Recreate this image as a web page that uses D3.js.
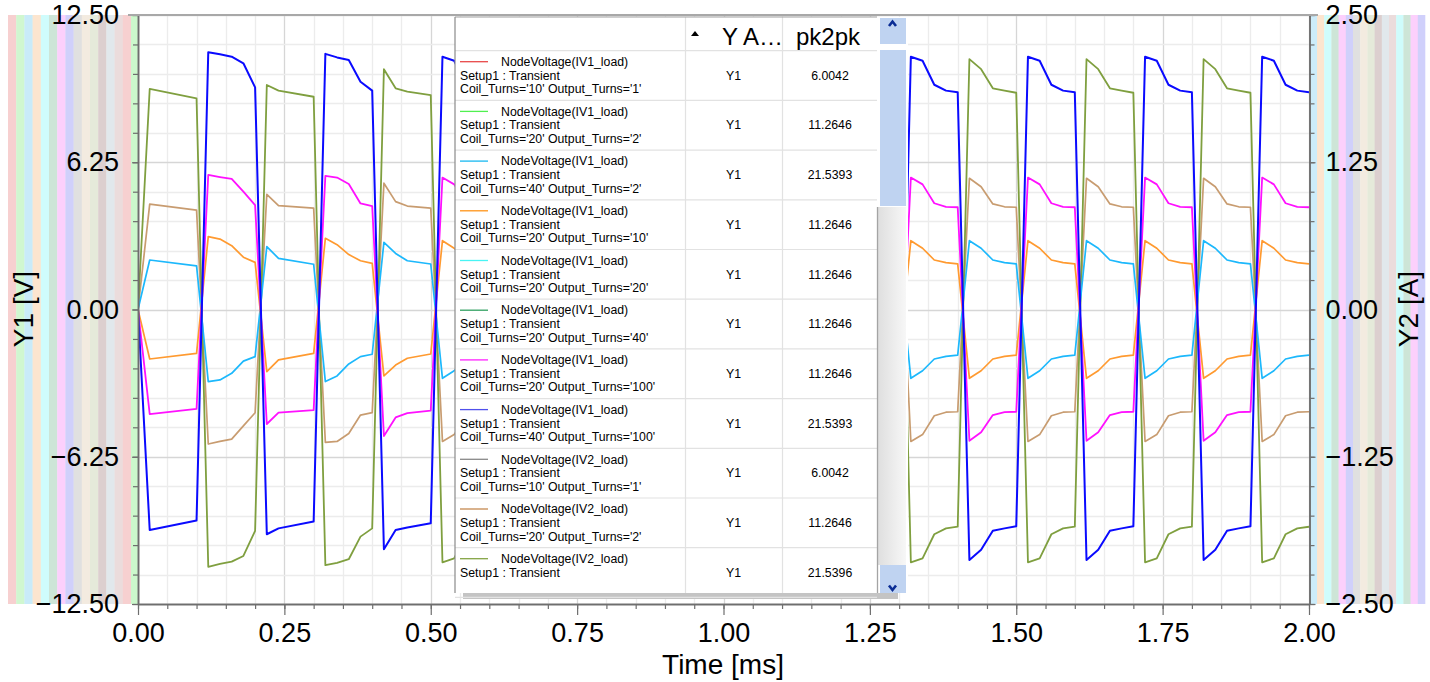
<!DOCTYPE html>
<html>
<head>
<meta charset="utf-8">
<script src="https://cdn.jsdelivr.net/npm/d3@7"></script>
<style>
  body { margin: 0; background: #fff; overflow: hidden; }
  svg { display: block; font-family: "Liberation Sans", Arial, sans-serif; }
</style>
</head>
<body>
<svg id="chart" width="1430" height="682"></svg>
<script>
// --- data (time in ms, voltage in V) ---
const timeMs = [
  0, 0.02, 0.10, 0.12, 0.14, 0.16, 0.18, 0.20, 0.22, 0.24, 0.30, 0.32, 0.34, 0.36, 0.38, 0.40, 0.42, 0.44, 0.46, 0.50,
  0.52, 0.54, 0.56, 0.58, 0.60, 0.62, 0.64, 0.66, 0.68, 0.70,
  0.72, 0.74, 0.76, 0.78, 0.80, 0.82, 0.84, 0.86, 0.88, 0.90,
  0.92, 0.94, 0.96, 0.98, 1.00, 1.02, 1.04, 1.06, 1.08, 1.10,
  1.12, 1.14, 1.16, 1.18, 1.20, 1.22, 1.24, 1.26, 1.28, 1.30,
  1.32, 1.34, 1.36, 1.38, 1.40, 1.42, 1.44, 1.46, 1.48, 1.50,
  1.52, 1.54, 1.56, 1.58, 1.60, 1.62, 1.64, 1.66, 1.68, 1.70,
  1.72, 1.74, 1.76, 1.78, 1.80, 1.82, 1.84, 1.86, 1.88, 1.90,
  1.92, 1.94, 1.96, 1.98, 2.00
];

const blueV = [
  0, -9.36, -8.96, 10.92, 10.83, 10.73, 10.45, 9.43, -9.54, -9.29, -9.0, 10.85, 10.7, 10.59, 9.67, 9.29, -10.18, -9.36, -9.25, -9.07,
  10.73, 10.56, 9.54, 9.29, 9.22, -10.63, -10.2, -9.39, -9.29, -9.2,
  10.73, 10.56, 9.54, 9.29, 9.22, -10.63, -10.2, -9.39, -9.29, -9.2,
  10.73, 10.56, 9.54, 9.29, 9.22, -10.63, -10.2, -9.39, -9.29, -9.2,
  10.73, 10.56, 9.54, 9.29, 9.22, -10.63, -10.2, -9.39, -9.29, -9.2,
  10.73, 10.56, 9.54, 9.29, 9.22, -10.63, -10.2, -9.39, -9.29, -9.2,
  10.73, 10.56, 9.54, 9.29, 9.22, -10.63, -10.2, -9.39, -9.29, -9.2,
  10.73, 10.56, 9.54, 9.29, 9.22, -10.63, -10.2, -9.39, -9.29, -9.2,
  10.73, 10.56, 9.54, 9.29, 9.22
];

const oliveV = [
  0, 9.36, 8.96, -10.92, -10.8, -10.7, -10.46, -9.4, 9.53, 9.29, 9.03, -10.85, -10.75, -10.6, -9.64, -9.29, 10.2, 9.39, 9.25, 9.1,
  -10.73, -10.56, -9.54, -9.29, -9.22, 10.63, 10.2, 9.39, 9.29, 9.2,
  -10.73, -10.56, -9.54, -9.29, -9.22, 10.63, 10.2, 9.39, 9.29, 9.2,
  -10.73, -10.56, -9.54, -9.29, -9.22, 10.63, 10.2, 9.39, 9.29, 9.2,
  -10.73, -10.56, -9.54, -9.29, -9.22, 10.63, 10.2, 9.39, 9.29, 9.2,
  -10.73, -10.56, -9.54, -9.29, -9.22, 10.63, 10.2, 9.39, 9.29, 9.2,
  -10.73, -10.56, -9.54, -9.29, -9.22, 10.63, 10.2, 9.39, 9.29, 9.2,
  -10.73, -10.56, -9.54, -9.29, -9.22, 10.63, 10.2, 9.39, 9.29, 9.2,
  -10.73, -10.56, -9.54, -9.29, -9.22
];

const magentaV = [
  0, -4.44, -4.22, 5.71, 5.62, 5.54, 5.0, 4.43, -4.86, -4.38, -4.27, 5.67, 5.6, 5.33, 4.5, 4.39, -5.37, -4.58, -4.4, -4.29,
  5.6, 5.31, 4.51, 4.36, 4.34, -5.57, -5.21, -4.48, -4.36, -4.34,
  5.6, 5.31, 4.51, 4.36, 4.34, -5.57, -5.21, -4.48, -4.36, -4.34,
  5.6, 5.31, 4.51, 4.36, 4.34, -5.57, -5.21, -4.48, -4.36, -4.34,
  5.6, 5.31, 4.51, 4.36, 4.34, -5.57, -5.21, -4.48, -4.36, -4.34,
  5.6, 5.31, 4.51, 4.36, 4.34, -5.57, -5.21, -4.48, -4.36, -4.34,
  5.6, 5.31, 4.51, 4.36, 4.34, -5.57, -5.21, -4.48, -4.36, -4.34,
  5.6, 5.31, 4.51, 4.36, 4.34, -5.57, -5.21, -4.48, -4.36, -4.34,
  5.6, 5.31, 4.51, 4.36, 4.34
];

const tanV = [
  0, 4.47, 4.22, -5.71, -5.6, -5.5, -4.94, -4.38, 4.89, 4.41, 4.3, -5.64, -5.6, -5.26, -4.48, -4.38, 5.36, 4.58, 4.39, 4.3,
  -5.6, -5.31, -4.51, -4.36, -4.34, 5.57, 5.21, 4.48, 4.36, 4.34,
  -5.6, -5.31, -4.51, -4.36, -4.34, 5.57, 5.21, 4.48, 4.36, 4.34,
  -5.6, -5.31, -4.51, -4.36, -4.34, 5.57, 5.21, 4.48, 4.36, 4.34,
  -5.6, -5.31, -4.51, -4.36, -4.34, 5.57, 5.21, 4.48, 4.36, 4.34,
  -5.6, -5.31, -4.51, -4.36, -4.34, 5.57, 5.21, 4.48, 4.36, 4.34,
  -5.6, -5.31, -4.51, -4.36, -4.34, 5.57, 5.21, 4.48, 4.36, 4.34,
  -5.6, -5.31, -4.51, -4.36, -4.34, 5.57, 5.21, 4.48, 4.36, 4.34,
  -5.6, -5.31, -4.51, -4.36, -4.34
];

const orangeV = [
  0, -2.1, -1.86, 3.09, 2.99, 2.71, 2.22, 2.0, -2.64, -2.14, -1.86, 3.02, 2.75, 2.33, 2.07, 1.96, -2.82, -2.36, -2.07, -1.89,
  2.92, 2.6, 2.1, 1.99, 1.94, -2.92, -2.6, -2.1, -1.99, -1.94,
  2.92, 2.6, 2.1, 1.99, 1.94, -2.92, -2.6, -2.1, -1.99, -1.94,
  2.92, 2.6, 2.1, 1.99, 1.94, -2.92, -2.6, -2.1, -1.99, -1.94,
  2.92, 2.6, 2.1, 1.99, 1.94, -2.92, -2.6, -2.1, -1.99, -1.94,
  2.92, 2.6, 2.1, 1.99, 1.94, -2.92, -2.6, -2.1, -1.99, -1.94,
  2.92, 2.6, 2.1, 1.99, 1.94, -2.92, -2.6, -2.1, -1.99, -1.94,
  2.92, 2.6, 2.1, 1.99, 1.94, -2.92, -2.6, -2.1, -1.99, -1.94,
  2.92, 2.6, 2.1, 1.99, 1.94
];

const skyV = [
  0, 2.1, 1.85, -3.06, -2.99, -2.71, -2.19, -2.0, 2.67, 2.17, 1.92, -3.06, -2.82, -2.31, -2.0, -1.9, 2.85, 2.38, 2.07, 1.93,
  -2.92, -2.6, -2.1, -1.99, -1.94, 2.92, 2.6, 2.1, 1.99, 1.94,
  -2.92, -2.6, -2.1, -1.99, -1.94, 2.92, 2.6, 2.1, 1.99, 1.94,
  -2.92, -2.6, -2.1, -1.99, -1.94, 2.92, 2.6, 2.1, 1.99, 1.94,
  -2.92, -2.6, -2.1, -1.99, -1.94, 2.92, 2.6, 2.1, 1.99, 1.94,
  -2.92, -2.6, -2.1, -1.99, -1.94, 2.92, 2.6, 2.1, 1.99, 1.94,
  -2.92, -2.6, -2.1, -1.99, -1.94, 2.92, 2.6, 2.1, 1.99, 1.94,
  -2.92, -2.6, -2.1, -1.99, -1.94, 2.92, 2.6, 2.1, 1.99, 1.94,
  -2.92, -2.6, -2.1, -1.99, -1.94
];

// legend table rows
const legendTrace = ["NodeVoltage(IV1_load)", "NodeVoltage(IV1_load)", "NodeVoltage(IV1_load)", "NodeVoltage(IV1_load)",
  "NodeVoltage(IV1_load)", "NodeVoltage(IV1_load)", "NodeVoltage(IV1_load)", "NodeVoltage(IV1_load)",
  "NodeVoltage(IV2_load)", "NodeVoltage(IV2_load)", "NodeVoltage(IV2_load)"];
const legendParams = ["Coil_Turns='10' Output_Turns='1'", "Coil_Turns='20' Output_Turns='2'", "Coil_Turns='40' Output_Turns='2'",
  "Coil_Turns='20' Output_Turns='10'", "Coil_Turns='20' Output_Turns='20'", "Coil_Turns='20' Output_Turns='40'",
  "Coil_Turns='20' Output_Turns='100'", "Coil_Turns='40' Output_Turns='100'", "Coil_Turns='10' Output_Turns='1'",
  "Coil_Turns='20' Output_Turns='2'", ""];
const legendAxis = ["Y1", "Y1", "Y1", "Y1", "Y1", "Y1", "Y1", "Y1", "Y1", "Y1", "Y1"];
const legendPk2pk = ["6.0042", "11.2646", "21.5393", "11.2646", "11.2646", "11.2646", "11.2646", "21.5393", "6.0042", "11.2646", "21.5396"];
const legendColors = ["#e84848", "#50f050", "#18b8f0", "#ff9418", "#48f4f4", "#30a060", "#ff20ff", "#5050ec", "#888888", "#c48850", "#84a444"];

const yTicks = [-12.5, -6.25, 0, 6.25, 12.5];
const y2Ticks = [-2.5, -1.25, 0, 1.25, 2.5];
const xTicks = [0, 0.25, 0.5, 0.75, 1, 1.25, 1.5, 1.75, 2];

// --- scales ---
const svg = d3.select("#chart");
const x = d3.scaleLinear().domain([0, 2]).range([138, 1309]);
const y = d3.scaleLinear().domain([-12.5, 12.5]).range([604, 15]);
const y2 = d3.scaleLinear().domain([-2.5, 2.5]).range([604, 15]);
const fmt = d3.format(".2f");

// axis colour strips
const leftStrips = ["#f7d0d0", "#d0f7d0", "#c9ebf9", "#fce5cf", "#cffcfc", "#cde5d7", "#fcd0fc", "#d0d0fb",
  "#e0e0e0", "#f3ebe0", "#e5eada", "#dccfcf", "#e1e8ec", "#ebdcdc", "#f7d0d0"];
const rightStrips = ["#fce5cf", "#cffcfc", "#cde5d7", "#fcd0fc", "#d0d0fb", "#e0e0e0", "#f3ebe0", "#e5eada",
  "#dccfcf", "#e1e8ec", "#ebdcdc", "#cffcfc", "#cde5d7", "#fcd0fc", "#d0d0fb"];
const sw = 123 / leftStrips.length;
svg.append("g").selectAll("rect").data(leftStrips).join("rect")
  .attr("x", (d, i) => 8 + i * sw).attr("y", 15).attr("width", sw + 0.3).attr("height", 589).attr("fill", d => d);
svg.append("rect").attr("x", 131).attr("y", 15).attr("width", 7).attr("height", 589).attr("fill", "#ccf8cc");
svg.append("rect").attr("x", 1309.5).attr("y", 15).attr("width", 7.5).attr("height", 589).attr("fill", "#ccecfa");
const rw = 108 / rightStrips.length;
svg.append("g").selectAll("rect").data(rightStrips).join("rect")
  .attr("x", (d, i) => 1317 + i * rw).attr("y", 15).attr("width", rw + 0.3).attr("height", 589).attr("fill", d => d);

// grid
const grid = svg.append("g");
const xMinor = d3.range(0, 2.0001, 0.05);
const yMinor = d3.range(-12.5, 12.5001, 1.25);
grid.selectAll(".vx").data(xMinor).join("line")
  .attr("x1", d => Math.round(x(d)) + 0.5).attr("x2", d => Math.round(x(d)) + 0.5)
  .attr("y1", 15).attr("y2", 604)
  .attr("stroke", (d, i) => i % 5 === 0 ? "#d6d6d6" : "#ececec").attr("stroke-width", 1.3);
grid.selectAll(".hy").data(yMinor).join("line")
  .attr("y1", d => Math.round(y(d)) + 0.5).attr("y2", d => Math.round(y(d)) + 0.5)
  .attr("x1", 138).attr("x2", 1309)
  .attr("stroke", (d, i) => i % 5 === 0 ? "#d6d6d6" : "#ececec").attr("stroke-width", 1.3);

// traces
svg.append("clipPath").attr("id", "plotclip").append("rect")
  .attr("x", 138).attr("y", 14).attr("width", 1171).attr("height", 591);
const line = d3.line().x(d => x(d[0])).y(d => y(d[1]));
const traces = [
  { v: tanV, c: "#c89c70", w: 1.7 },
  { v: oliveV, c: "#7f9f3f", w: 1.8 },
  { v: skyV, c: "#1cb8fc", w: 1.7 },
  { v: orangeV, c: "#ff9a30", w: 1.7 },
  { v: magentaV, c: "#ff10ff", w: 1.8 },
  { v: blueV, c: "#0a0aff", w: 2 }
];
const tg = svg.append("g").attr("clip-path", "url(#plotclip)");
traces.forEach(s => {
  tg.append("path").datum(timeMs.map((t, i) => [t, s.v[i]]))
    .attr("d", line).attr("fill", "none").attr("stroke", s.c)
    .attr("stroke-width", s.w).attr("stroke-linejoin", "round");
});

// axes
function styleAxis(g) {
  g.select(".domain").attr("stroke", "#6e6e6e").attr("stroke-width", 1.5);
  g.selectAll(".tick line").attr("stroke", "#6e6e6e").attr("stroke-width", 1.2);
  g.selectAll("text").attr("fill", "#000").style("font-size", "27px")
    .style("font-family", "'Liberation Sans', Arial, sans-serif");
}
// minor ticks
svg.append("g").attr("transform", "translate(0,604)")
  .call(d3.axisBottom(x).tickValues(xMinor).tickSize(5).tickFormat("").tickSizeOuter(0))
  .call(styleAxis);
svg.append("g").attr("transform", "translate(0,604)")
  .call(d3.axisBottom(x).tickValues(xTicks).tickSize(11).tickPadding(8).tickFormat(fmt).tickSizeOuter(0))
  .call(styleAxis);
svg.append("g").attr("transform", "translate(138,0)")
  .call(d3.axisLeft(y).tickValues(yMinor).tickSize(5).tickFormat("").tickSizeOuter(0))
  .call(styleAxis);
svg.append("g").attr("transform", "translate(138,0)")
  .call(d3.axisLeft(y).tickValues(yTicks).tickSize(6).tickPadding(13).tickFormat(fmt).tickSizeOuter(0))
  .call(styleAxis);
svg.append("g").attr("transform", "translate(1309.5,0)")
  .call(d3.axisRight(y2).tickValues(d3.range(-2.5, 2.5001, 0.25)).tickSize(5).tickFormat("").tickSizeOuter(0))
  .call(styleAxis);
svg.append("g").attr("transform", "translate(1309.5,0)")
  .call(d3.axisRight(y2).tickValues(y2Ticks).tickSize(6).tickPadding(10).tickFormat(fmt).tickSizeOuter(0))
  .call(styleAxis);

// top frame line
svg.append("line").attr("x1", 128).attr("x2", 1318).attr("y1", 15).attr("y2", 15)
  .attr("stroke", "#a8a8a8").attr("stroke-width", 2);

// axis titles
svg.append("text").attr("transform", "translate(33,309) rotate(-90)").attr("text-anchor", "middle")
  .style("font-size", "28px").text("Y1 [V]");
svg.append("text").attr("transform", "translate(1418,309) rotate(-90)").attr("text-anchor", "middle")
  .style("font-size", "28px").text("Y2 [A]");
svg.append("text").attr("x", 723).attr("y", 674).attr("text-anchor", "middle")
  .style("font-size", "28px").text("Time [ms]");

// --- legend table ---
const lg = svg.append("g");
const tL = 455, tR = 877, tT = 17, hdrB = 50.7, rowH = 49.7, tB = 593;
lg.append("rect").attr("x", 463).attr("y", 593).attr("width", 435).attr("height", 6).attr("fill", "#c4c4c4");
lg.append("rect").attr("x", tL).attr("y", tT).attr("width", 453).attr("height", tB - tT).attr("fill", "#fff");
const rows = legendTrace.map((d, i) => i);
// row separators
lg.selectAll(".rs").data(d3.range(0, rows.length + 1)).join("line")
  .attr("x1", tL).attr("x2", tR)
  .attr("y1", d => hdrB + d * rowH).attr("y2", d => hdrB + d * rowH)
  .attr("stroke", "#e2e2e2").attr("stroke-width", 1.2);
[685.5, 782.5].forEach(cx => lg.append("line").attr("x1", cx).attr("x2", cx).attr("y1", tT).attr("y2", tB)
  .attr("stroke", "#e2e2e2").attr("stroke-width", 1.2));
lg.append("line").attr("x1", tL).attr("x2", tR).attr("y1", tT).attr("y2", tT).attr("stroke", "#a0a0a0");
lg.append("line").attr("x1", tL).attr("x2", tL).attr("y1", tT).attr("y2", tB).attr("stroke", "#8a8a8a").attr("stroke-width", 1.2);

// header
lg.append("path").attr("d", "M691,36 L695,31 L699,36 Z").attr("fill", "#000");
lg.append("text").attr("x", 722).attr("y", 45).style("font-size", "24px").text("Y A\u2026");
lg.append("text").attr("x", 796).attr("y", 45).style("font-size", "24px").text("pk2pk");

const rg = lg.selectAll(".row").data(rows).join("g")
  .attr("transform", i => `translate(0,${hdrB + i * rowH})`);
rg.append("line").attr("x1", 460).attr("x2", 488).attr("y1", 11).attr("y2", 11)
  .attr("stroke", i => legendColors[i]).attr("stroke-width", 1.3);
rg.append("text").attr("x", 501).attr("y", 15.3).style("font-size", "12.3px").text(i => legendTrace[i]);
rg.append("text").attr("x", 460).attr("y", 29).style("font-size", "12.3px").text("Setup1 : Transient");
rg.append("text").attr("x", 460).attr("y", 42.6).style("font-size", "12.3px").text(i => legendParams[i]);
rg.append("text").attr("x", 733.5).attr("y", 29).attr("text-anchor", "middle").style("font-size", "12.3px").text(i => legendAxis[i]);
rg.append("text").attr("x", 830).attr("y", 29).attr("text-anchor", "middle").style("font-size", "12.3px").text(i => legendPk2pk[i]);

// scrollbar
const grad = svg.append("defs").append("linearGradient").attr("id", "track").attr("x1", "0").attr("x2", "1");
grad.append("stop").attr("offset", "0").attr("stop-color", "#dedede");
grad.append("stop").attr("offset", "1").attr("stop-color", "#f7f7f7");
lg.append("rect").attr("x", 877).attr("y", 207).attr("width", 29).attr("height", 358).attr("fill", "url(#track)");
lg.append("line").attr("x1", 877.5).attr("x2", 877.5).attr("y1", 207).attr("y2", 593).attr("stroke", "#a4a4a4").attr("stroke-width", 1.3);
lg.append("rect").attr("x", 880).attr("y", 18).attr("width", 26).attr("height", 26).attr("fill", "#bfd3f1");
lg.append("rect").attr("x", 880).attr("y", 50).attr("width", 26).attr("height", 156).attr("fill", "#bfd3f1");
lg.append("rect").attr("x", 880).attr("y", 565).attr("width", 26).attr("height", 28).attr("fill", "#bfd3f1");
lg.append("path").attr("d", "M889,26 L892.5,21.5 L896,26").attr("fill", "none").attr("stroke", "#0a2c94").attr("stroke-width", 2.6);
lg.append("path").attr("d", "M889,585.5 L892.5,590 L896,585.5").attr("fill", "none").attr("stroke", "#0a2c94").attr("stroke-width", 2.6);
</script>
</body>
</html>
